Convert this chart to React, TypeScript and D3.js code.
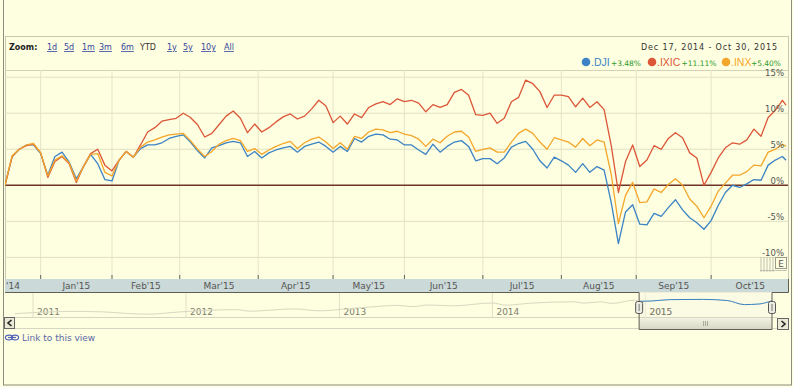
import React, { useEffect } from 'react';
import * as d3 from 'd3';

const W = 793;
const H = 387;

// trading-day index, counted from Dec 17, 2014
const DAYS = [
  0, 2, 4, 6, 8, 10, 12, 14, 16, 18,
  20, 22, 24, 26, 28, 30, 32, 34, 36, 38,
  40, 42, 44, 46, 48, 50, 52, 54, 56, 58,
  60, 62, 64, 66, 68, 70, 72, 74, 76, 78,
  80, 82, 84, 86, 88, 90, 92, 94, 96, 98,
  100, 102, 104, 106, 108, 110, 112, 114, 116, 118,
  120, 122, 124, 126, 128, 130, 132, 134, 136, 138,
  140, 142, 144, 146, 148, 150, 152, 154, 156, 158,
  160, 162, 164, 166, 168, 170, 172, 174, 176, 178,
  180, 182, 184, 186, 188, 190, 192, 194, 196, 198,
  200, 202, 204, 206, 208, 210, 212, 214, 216, 218,
  219,
];

// % change since Dec 17, 2014
const DJI = [
  0, 4.0, 5.0, 5.6, 5.6, 4.4, 1.4, 4.0, 4.6, 3.2,
  0.9, 2.6, 4.3, 3.0, 0.8, 0.6, 3.5, 4.7, 3.9, 5.1,
  5.6, 5.6, 5.9, 6.5, 6.8, 7.0, 6.0, 4.8, 3.8, 5.2,
  5.5, 5.9, 6.1, 5.9, 4.0, 4.7, 3.8, 4.5, 4.9, 5.2,
  5.4, 4.6, 5.4, 5.7, 6.0, 5.4, 4.6, 5.4, 4.7, 6.5,
  6.0, 6.8, 7.1, 7.0, 6.4, 6.3, 5.6, 5.6, 4.9, 4.3,
  5.7, 4.6, 5.4, 6.0, 6.2, 5.4, 3.4, 3.7, 3.7, 3.0,
  3.8, 5.3, 5.8, 6.1, 5.0, 3.4, 2.4, 3.9, 3.4, 2.8,
  1.8, 3.0, 1.8, 2.6, 2.1, -2.4, -8.1, -3.7, -2.7, -5.4,
  -5.5, -3.9, -4.3, -3.1, -2.0, -3.4, -4.5, -5.2, -6.1, -4.9,
  -2.8, -1.0, 0.0, -0.3, 0.2, 0.8, 0.7, 2.8, 3.5, 4.0,
  3.48,
];

const IXIC = [
  0, 4.0, 5.0, 5.5, 5.7, 4.5, 1.1, 3.3, 4.0, 3.0,
  0.4, 2.6, 4.4, 5.0, 2.8, 2.0, 3.5, 4.7, 3.9, 5.6,
  7.4, 8.0, 8.9, 9.1, 9.3, 10.0, 9.4, 8.4, 6.7, 7.2,
  8.4, 9.6, 10.3, 9.3, 7.3, 8.5, 7.4, 8.0, 8.8, 9.5,
  9.9, 9.2, 9.6, 10.6, 11.8, 11.0, 8.7, 9.6, 8.5, 9.9,
  9.4, 10.8, 11.3, 11.6, 11.2, 12.0, 11.6, 11.8, 11.4, 10.2,
  11.2, 10.8, 11.2, 12.9, 13.3, 12.5, 9.8, 9.7, 10.0, 8.6,
  9.3, 11.6, 12.2, 14.6, 14.1, 13.0, 10.8, 12.5, 12.5, 12.3,
  10.9, 12.1, 10.8, 11.6, 10.5, 5.5, -1.0, 3.3, 5.6, 2.6,
  3.5, 5.5, 5.0, 6.5, 7.3, 6.6, 4.5, 3.8, 0.0, 1.8,
  3.8, 5.2, 5.9, 5.7, 6.3, 7.8, 6.8, 9.4, 10.4, 11.8,
  11.11,
];

const INX = [
  0, 4.1, 5.0, 5.6, 5.8, 4.5, 1.3, 3.5, 4.1, 3.1,
  0.6, 2.6, 4.3, 4.4, 1.8, 1.3, 3.5, 4.7, 3.9, 5.3,
  6.0, 6.3, 6.7, 7.0, 7.1, 7.2, 6.2, 5.0, 4.0, 4.7,
  5.7, 6.2, 6.5, 6.2, 4.7, 5.1, 4.3, 4.9, 5.4, 5.8,
  6.1, 5.1, 5.9, 6.4, 6.7, 6.0, 5.1, 5.9, 5.0, 6.8,
  6.5, 7.4, 7.8, 7.7, 7.3, 7.5, 7.1, 6.9, 6.4, 5.4,
  6.4, 5.9, 6.8, 7.4, 7.5, 6.7, 4.7, 5.0, 5.2, 4.6,
  4.6, 6.0, 7.2, 7.8, 7.2, 6.0, 5.0, 6.6, 6.3, 6.0,
  5.3, 6.5, 5.5, 6.3, 6.0, 1.5, -5.3, -1.4, 0.4, -2.4,
  -2.3, -0.5, -1.0, 0.1, 0.9, 0.0, -1.9, -2.9, -4.5, -2.9,
  -0.8, 0.3, 1.4, 1.4, 1.9, 2.8, 2.7, 4.6, 5.0, 5.7,
  5.40,
];

// month boundaries in trading days (first trading day of each month)
const MONTH_BOUNDS = [-12, 10, 30, 49, 71, 92, 112, 134, 156, 177, 198, 220];
const MONTH_LABELS = ["Dec'14", "Jan'15", "Feb'15", "Mar'15", "Apr'15", "May'15", "Jun'15", "Jul'15", "Aug'15", "Sep'15", "Oct'15"];
const Y_TICKS = [15, 10, 5, 0, -5, -10];

const SERIES = [
  { name: '.DJI', change: '+3.48%', color: '#3b83c4', values: DJI },
  { name: '.IXIC', change: '+11.11%', color: '#dc5638', values: IXIC },
  { name: '.INX', change: '+5.40%', color: '#f4a62a', values: INX },
];

const ZOOM_LINKS = ['1d', '5d', '1m', '3m', '6m', 'YTD', '1y', '5y', '10y', 'All'];

// navigator: long-range DJI level
const NAV_DATES = [
  '2010-11-19', '2011-01-15', '2011-04-01', '2011-06-15', '2011-08-10', '2011-10-01', '2011-12-15',
  '2012-03-01', '2012-05-01', '2012-06-01', '2012-09-15', '2012-11-15', '2013-01-15', '2013-03-15',
  '2013-05-20', '2013-06-25', '2013-08-01', '2013-10-01', '2013-12-31', '2014-02-03', '2014-04-01',
  '2014-07-15', '2014-08-07', '2014-09-15', '2014-10-15', '2014-12-05', '2014-12-17', '2015-01-15',
  '2015-03-02', '2015-05-19', '2015-07-15', '2015-08-25', '2015-09-29', '2015-10-30',
];
const NAV_DJI = [
  11200, 11800, 12300, 12100, 11300, 10900, 12000,
  12900, 13200, 12400, 13550, 12600, 13500, 14500,
  15300, 14700, 15500, 15100, 16500, 15400, 16400,
  17100, 16400, 17100, 16300, 17900, 17350, 17500,
  18200, 18300, 17750, 15700, 16000, 17650,
];
const NAV_YEARS = [2011, 2012, 2013, 2014, 2015];

const FONT = 'DejaVu Sans, Verdana, sans-serif';

export default function App() {
  useEffect(() => {
    document.body.style.margin = '0';
    document.body.style.background = '#fefee0';
  }, []);

  const left = 5;
  const right = 788;
  const top = 70;
  const bottom = 279;

  const x = d3.scaleLinear().domain([0, 219]).range([left, 786]);
  const y = d3.scaleLinear().domain([-13, 16]).range([bottom, top]);

  const line = d3
    .line<number>()
    .x((_, i) => x(DAYS[i]))
    .y((d) => y(d));

  // navigator scales
  const navX = d3
    .scaleTime()
    .domain([new Date('2010-11-19'), new Date('2015-10-30')])
    .range([15, 772]);
  const navY = d3.scaleLinear().domain([11000, 18500]).range([314, 299]);
  const navPts = NAV_DATES.map((d, i) => [navX(new Date(d)), navY(NAV_DJI[i])] as [number, number]);
  const navLine = d3.line().curve(d3.curveMonotoneX);
  const winL = navX(new Date('2014-12-17'));
  const winR = 772;
  const winPts = navPts.filter((p) => p[0] >= winL - 0.5);

  const zoomX = [47, 64, 82, 99, 121, 140, 167, 183, 201, 224];

  return (
    <svg width={W} height={H} style={{ display: 'block' }} fontFamily={FONT}>
      <defs>
        <clipPath id="plot">
          <rect x={left} y={top} width={right - left} height={bottom - top} />
        </clipPath>
        <clipPath id="win">
          <rect x={winL} y={293} width={winR - winL} height={24} />
        </clipPath>
        <linearGradient id="thumb" x1="0" y1="0" x2="0" y2="1">
          <stop offset="0%" stopColor="#f2f2e2" />
          <stop offset="100%" stopColor="#d8d8c6" />
        </linearGradient>
      </defs>

      <rect x={0} y={0} width={W} height={H} fill="#fefee0" />
      {/* outer frame */}
      <rect x={3.5} y={-2} width={788} height={387} fill="none" stroke="#8d8d7c" />
      {/* chart panel */}
      <rect x={5.5} y={36.5} width={783} height={255.5} fill="none" stroke="#c9c9b3" />

      {/* header */}
      <text x={9} y={50} fontSize={8} fontWeight="bold" fill="#222">Zoom:</text>
      {ZOOM_LINKS.map((z, i) => (
        <text
          key={z}
          x={zoomX[i]}
          y={50}
          fontSize={8}
          fill={z === 'YTD' ? '#333' : '#34479e'}
          textDecoration={z === 'YTD' ? 'none' : 'underline'}
        >
          {z}
        </text>
      ))}
      <text x={641} y={50} fontSize={8} fill="#333" textLength={136} lengthAdjust="spacing">
        Dec 17, 2014  -  Oct 30, 2015
      </text>

      {/* legend */}
      {(() => {
        const xs = [586, 652, 726];
        return SERIES.map((s, i) => {
          const nameW = s.name.length * 4.6;
          return (
            <g key={s.name}>
              <circle cx={xs[i]} cy={62} r={4.3} fill={s.color} />
              <text x={xs[i] + 5} y={66} fontSize={10.5} fontFamily="Liberation Sans, Arial, sans-serif" fill={s.color}>
                {s.name}
              </text>
              <text x={xs[i] + 6.5 + nameW} y={65.5} fontSize={7.5} fill="#2f9a2f">
                {s.change}
              </text>
            </g>
          );
        });
      })()}

      {/* plot top border */}
      <line x1={left} x2={right} y1={top + 0.5} y2={top + 0.5} stroke="#d3d1b6" />

      {/* vertical gridlines */}
      {MONTH_BOUNDS.slice(1, -1).map((d) => (
        <g key={d}>
          <line x1={x(d)} x2={x(d)} y1={top} y2={bottom} stroke="#e6e4c6" />
          <line x1={x(d)} x2={x(d)} y1={bottom - 4} y2={bottom} stroke="#666" />
        </g>
      ))}

      {/* horizontal gridlines */}
      {Y_TICKS.filter((t) => t !== 0).map((t) => (
        <line key={t} x1={left} x2={right} y1={y(t)} y2={y(t)} stroke="#e2e0c2" />
      ))}

      {/* event marker */}
      <g stroke="#b4b4a4" strokeWidth={0.8}>
        {[761, 764, 767, 770, 773].map((vx) => (
          <line key={vx} x1={vx} x2={vx} y1={257} y2={272} />
        ))}
        <line x1={760} x2={787} y1={270.5} y2={270.5} />
      </g>
      <rect x={775.5} y={257.5} width={11} height={11} fill="#fefee0" stroke="#9a9a8a" />
      <text x={781} y={266.5} fontSize={9} textAnchor="middle" fill="#555">E</text>

      {/* zero line */}
      <line x1={left} x2={right} y1={y(0)} y2={y(0)} stroke="#6e3526" strokeWidth={1.5} />

      {/* series */}
      <g clipPath="url(#plot)">
        {SERIES.map((s) => (
          <path key={s.name} d={line(s.values) || ''} fill="none" stroke={s.color} strokeWidth={1.3} strokeLinejoin="round" />
        ))}
      </g>

      {/* y labels */}
      {Y_TICKS.map((t) => (
        <text key={t} x={784} y={y(t) - 1} fontSize={8.5} textAnchor="end" fill="#555">
          {t}%
        </text>
      ))}

      {/* x axis band */}
      <rect x={left} y={279} width={right - left} height={13} fill="#cbd9d8" />
      {MONTH_LABELS.map((m, i) => {
        const cx = x((MONTH_BOUNDS[i] + MONTH_BOUNDS[i + 1]) / 2);
        // month that starts before the view: only its year part shows at the left edge
        if (cx < left + 15) {
          return (
            <text key={m} x={left + 1} y={289} fontSize={9} fill="#555">
              {"'" + m.split("'")[1]}
            </text>
          );
        }
        return (
          <text key={m} x={cx} y={289} fontSize={9} textAnchor="middle" fill="#555">
            {m}
          </text>
        );
      })}

      {/* navigator */}
      {NAV_YEARS.map((yr) => {
        const vx = navX(new Date(`${yr}-01-01`));
        return (
          <g key={yr}>
            <line x1={vx} x2={vx} y1={293} y2={317} stroke="#e2e0c8" />
            <text x={vx + 4} y={315} fontSize={9} fill="#808070">{yr}</text>
          </g>
        );
      })}
      <path d={navLine(navPts) || ''} fill="none" stroke="#d9d8c2" strokeWidth={1} />
      <rect x={winL} y={292} width={winR - winL} height={37} fill="#f7f7e6" fillOpacity={0.55} />
      <g clipPath="url(#win)">
        <path d={navLine(winPts) || ''} fill="none" stroke="#3b83c4" strokeWidth={1} />
        <text x={navX(new Date('2015-01-01')) + 4} y={315} fontSize={9} fill="#808070">2015</text>
      </g>

      {/* scrollbar */}
      <line x1={15} x2={777} y1={317.5} y2={317.5} stroke="#d6d6c2" />
      <line x1={15} x2={777} y1={328.5} y2={328.5} stroke="#d6d6c2" />
      <rect x={winL} y={318} width={winR - winL} height={11} fill="url(#thumb)" />
      <g stroke="#a8a898">
        {[-2, 0, 2].map((o) => (
          <line key={o} x1={(winL + winR) / 2 + o} x2={(winL + winR) / 2 + o} y1={321} y2={326} />
        ))}
      </g>

      {/* band outline with dropped window */}
      <path
        d={`M${left},292.5 H${winL} V329.5 H${winR} V292.5 H${right + 0.5} V279`}
        fill="none"
        stroke="#5f5f55"
      />

      {/* handles */}
      {[winL, winR].map((hx) => (
        <g key={hx}>
          <rect x={hx - 3.5} y={301.5} width={7} height={12} rx={2} fill="#ecece0" stroke="#555" />
          <line x1={hx} x2={hx} y1={304} y2={311} stroke="#777" />
        </g>
      ))}

      {/* arrow buttons */}
      <rect x={4.5} y={317.5} width={10} height={11} fill="#e9e9d6" stroke="#666" />
      <path d="M11.5,320 L8,323 L11.5,326" fill="none" stroke="#222" strokeWidth={1.6} />
      <rect x={777.5} y={318.5} width={11} height={11} fill="#e9e9d6" stroke="#666" />
      <path d="M781.5,321 L785,324 L781.5,327" fill="none" stroke="#222" strokeWidth={1.6} />

      {/* link */}
      <ellipse cx={9} cy={337.5} rx={3.6} ry={2.4} fill="none" stroke="#5566bb" strokeWidth={1.2} />
      <ellipse cx={15} cy={337.5} rx={3.6} ry={2.4} fill="none" stroke="#5566bb" strokeWidth={1.2} />
      <line x1={8} x2={16} y1={337.5} y2={337.5} stroke="#5566bb" strokeWidth={1.2} />
      <text x={22} y={341} fontSize={9} fill="#5a68a8">Link to this view</text>
    </svg>
  );
}
